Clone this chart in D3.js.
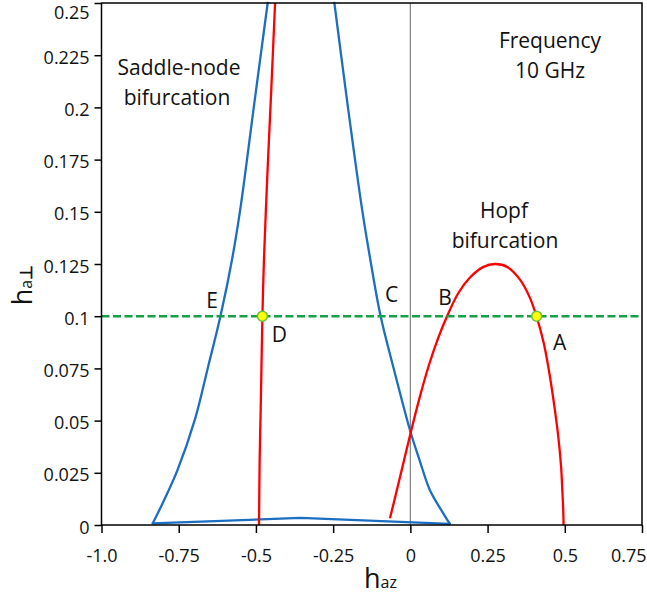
<!DOCTYPE html>
<html>
<head>
<meta charset="utf-8">
<script src="https://cdn.jsdelivr.net/npm/d3@7"></script>
<style>
  body { margin: 0; background: #fff; }
  svg { display: block; font-family: "Open Sans", sans-serif; }
</style>
</head>
<body>
<div id="chart"></div>
<script>
// Bifurcation diagram, 10 GHz
const xTicks = [-1, -0.75, -0.5, -0.25, 0, 0.25, 0.5, 0.75];
const xTickLabels = ["-1.0", "-0.75", "-0.5", "-0.25", "0", "0.25", "0.5", "0.75"];
const yTicks = [0, 0.025, 0.05, 0.075, 0.1, 0.125, 0.15, 0.175, 0.2, 0.225, 0.25];
const yTickLabels = ["0", "0.025", "0.05", "0.075", "0.1", "0.125", "0.15", "0.175", "0.2", "0.225", "0.25"];

// saddle-node boundary (blue), split in three pieces
const saddleLeft = [[-0.462, 0.25], [-0.506, 0.2011], [-0.551, 0.1509], [-0.577, 0.1274], [-0.614, 0.1006],
  [-0.655, 0.0757], [-0.697, 0.0508], [-0.755, 0.0259], [-0.797, 0.012], [-0.834, 0.0008]];
const saddleBase = [[-0.834, 0.0008], [-0.355, 0.0034], [0.128, 0.0005]];
const saddleRight = [[0.128, 0.0005], [0.1065, 0.0056], [0.063, 0.0168], [0.03, 0.031], [-0.0014, 0.0455],
  [-0.05, 0.0727], [-0.096, 0.0998], [-0.13, 0.1274], [-0.156, 0.1509], [-0.203, 0.2011], [-0.246, 0.25]];
// red line inside saddle-node region
const saddleRed = [[-0.49, 0], [-0.488, 0.03], [-0.484, 0.06], [-0.479, 0.1], [-0.474, 0.127],
  [-0.462, 0.171], [-0.452, 0.203], [-0.438, 0.25]];
// Hopf boundary (red)
const hopf = [[-0.066, 0.0032], [-0.035, 0.022], [-0.001, 0.043], [0.03, 0.061], [0.06, 0.0765],
  [0.09, 0.0895], [0.118, 0.0997], [0.155, 0.111], [0.193, 0.1185], [0.235, 0.1235], [0.274, 0.125],
  [0.315, 0.1235], [0.355, 0.1175], [0.385, 0.1095], [0.409, 0.0997], [0.432, 0.087], [0.452, 0.071],
  [0.468, 0.055], [0.479, 0.0422], [0.488, 0.028], [0.492, 0.0167], [0.495, 0.007], [0.496, 0]];

const cutLevel = 0.1;
const markers = [[-0.479, 0.1], [0.409, 0.1]];
const pointLabels = ["E", "D", "C", "B", "A"];
const pointLabelPos = [[-0.642, 0.1], [-0.424, 0.1], [-0.061, 0.1], [0.112, 0.1], [0.483, 0.1]];

const width = 647, height = 596;
const x = d3.scaleLinear().domain([-1, 0.75]).range([101.5, 642]);
const y = d3.scaleLinear().domain([0, 0.25]).range([525, 3]);

const svg = d3.select('#chart').append('svg')
    .attr('width', width)
    .attr('height', height);

// axes
const xAxis = d3.axisBottom(x).tickValues(xTicks)
    .tickFormat((d, i) => xTickLabels[i]).tickSize(8).tickPadding(16);
const yAxis = d3.axisLeft(y).tickValues(yTicks)
    .tickFormat((d, i) => yTickLabels[i]).tickSize(7).tickPadding(5);

const gx = svg.append('g').attr('transform', `translate(0,${y(0)})`).call(xAxis);
const gy = svg.append('g').attr('transform', `translate(${x(-1)},0)`).call(yAxis);
[gx, gy].forEach(g => {
    g.select('.domain').remove();
    g.selectAll('line').attr('stroke', '#000').attr('stroke-width', 1.5);
    g.selectAll('text').attr('fill', '#111').style('font-size', '18px')
        .style('font-family', '"Open Sans", sans-serif');
});
gy.selectAll('text').attr('dy', (d, i) => i === yTicks.length - 1 ? '0.85em' : '0.45em');
// last x label kept inside the page
gx.selectAll('text').filter((d, i) => i === xTicks.length - 1)
    .attr('text-anchor', 'end').attr('x', 4);

// zero line
svg.append('line')
    .attr('x1', x(0)).attr('x2', x(0))
    .attr('y1', y(0)).attr('y2', y(0.25))
    .attr('stroke', '#8a8a8a').attr('stroke-width', 1.3);

const line = d3.line()
    .x(d => x(d[0])).y(d => y(d[1]))
    .curve(d3.curveCatmullRom.alpha(0.5));

const blue = '#1b6ec2', red = '#ff0000';
[saddleLeft, saddleRight].forEach(s => {
    svg.append('path').datum(s).attr('d', line)
        .attr('fill', 'none').attr('stroke', blue).attr('stroke-width', 2.3)
        .attr('stroke-linecap', 'round');
});
svg.append('path').datum(saddleBase)
    .attr('d', d3.line().x(d => x(d[0])).y(d => y(d[1])))
    .attr('fill', 'none').attr('stroke', blue).attr('stroke-width', 2.3)
    .attr('stroke-linecap', 'round');

[saddleRed, hopf].forEach(s => {
    svg.append('path').datum(s).attr('d', line)
        .attr('fill', 'none').attr('stroke', red).attr('stroke-width', 2.3);
});

// cut line
svg.append('line')
    .attr('x1', x(-1)).attr('x2', x(0.75))
    .attr('y1', y(cutLevel)).attr('y2', y(cutLevel))
    .attr('stroke', '#17a046').attr('stroke-width', 2.4)
    .attr('stroke-dasharray', '8,3.5');

svg.selectAll('circle.mk').data(markers).enter().append('circle')
    .attr('class', 'mk')
    .attr('cx', d => x(d[0])).attr('cy', d => y(d[1])).attr('r', 5)
    .attr('fill', '#ffff00').attr('stroke', '#6cbf3a').attr('stroke-width', 1.5);

// frame
svg.append('rect')
    .attr('x', x(-1)).attr('y', y(0.25))
    .attr('width', x(0.75) - x(-1)).attr('height', y(0) - y(0.25))
    .attr('fill', 'none').attr('stroke', '#000').attr('stroke-width', 1.5);

// point letters
const letterDy = [-8, 26, -14, -11, 34];
svg.selectAll('text.pt').data(pointLabels).enter().append('text')
    .attr('class', 'pt')
    .attr('x', (d, i) => x(pointLabelPos[i][0]))
    .attr('y', (d, i) => y(pointLabelPos[i][1]) + letterDy[i])
    .attr('text-anchor', 'middle')
    .style('font-size', '21px').attr('fill', '#111')
    .text(d => d);

// annotations
const notes = [
    ['Saddle-node', 179, 75], ['bifurcation', 177, 105],
    ['Frequency', 550, 48], ['10 GHz', 550, 78],
    ['Hopf', 504, 218], ['bifurcation', 505, 248]
];
svg.selectAll('text.note').data(notes).enter().append('text')
    .attr('class', 'note')
    .attr('x', d => d[1]).attr('y', d => d[2])
    .attr('text-anchor', 'middle')
    .style('font-size', '21px').attr('fill', '#111')
    .text(d => d[0]);

// axis titles
const xt = svg.append('text').attr('x', 364).attr('y', 588).attr('fill', '#111');
xt.append('tspan').style('font-size', '27px').text('h');
xt.append('tspan').style('font-size', '16px').text('az');

const yt = svg.append('text')
    .attr('transform', 'translate(32,285) rotate(-90)')
    .attr('text-anchor', 'middle').attr('fill', '#111');
yt.append('tspan').style('font-size', '27px').text('h');
yt.append('tspan').style('font-size', '16px').text('a');
yt.append('tspan').style('font-size', '17px').style('font-weight', 'bold').text('⊥');
</script>
</body>
</html>
